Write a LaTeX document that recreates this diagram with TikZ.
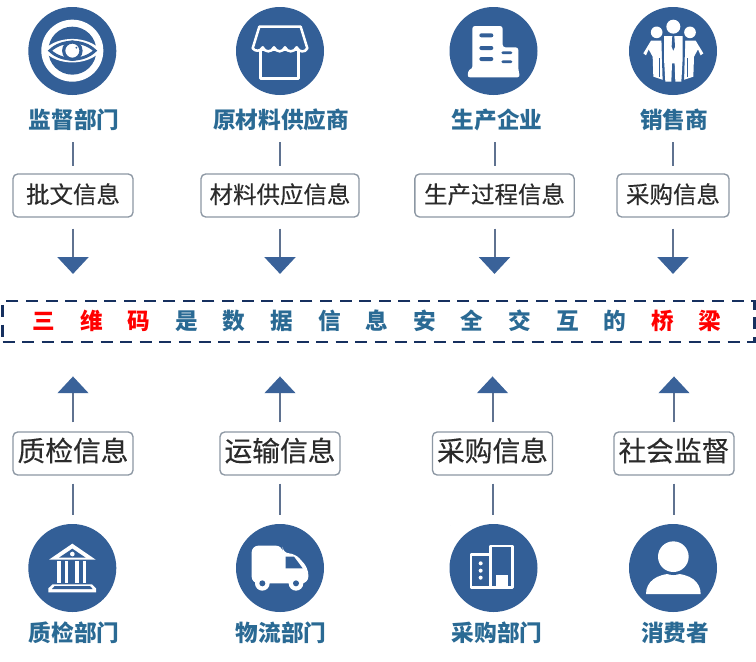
\documentclass[tikz,border=0pt]{standalone}
\usepackage{fontspec}
\setmainfont{Noto Sans CJK SC}
\newfontfamily\boxfont[FakeBold=0.25]{Noto Sans CJK SC}
\usetikzlibrary{arrows.meta}
\definecolor{disc}{HTML}{335F97}
\definecolor{labelblue}{HTML}{2A6A94}
\definecolor{headblue}{HTML}{3A6299}
\definecolor{linegray}{HTML}{5F7290}
\definecolor{boxedge}{HTML}{8C97A3}
\definecolor{textdark}{HTML}{2B2B2B}
\definecolor{bandnavy}{HTML}{16305F}
\newcommand{\bandch}[1]{\makebox[35.7pt]{#1}}
\tikzset{
  icondisc/.style={circle,fill=disc,draw=none,minimum size=66pt,inner sep=0pt},
  rolelabel/.style={font=\bfseries\fontsize{17pt}{17pt}\selectfont,text=labelblue,inner sep=0pt,text height=14pt,text depth=2.5pt},
  infobox/.style={draw=boxedge,line width=1pt,rounded corners=3.5pt,fill=white,inner sep=0pt,minimum height=32.25pt,text=textdark,text height=14pt,text depth=2.5pt},
  infotop/.style={infobox,font=\boxfont\fontsize{17.6pt}{17.6pt}\selectfont},
  infobot/.style={infobox,font=\boxfont\fontsize{20.8pt}{20.8pt}\selectfont},
  stem/.style={draw=linegray,line width=1.5pt},
  feed/.style={draw=linegray,line width=1.5pt,-{Triangle[length=12.5pt,width=23pt,color=headblue,fill=headblue]}},
  wl/.style={draw=white,line width=1.9pt,line join=round},
}
\begin{document}
\begin{tikzpicture}[x=.75pt,y=-.75pt]
\useasboundingbox (0,0) rectangle (756,661);
\fill[white] (0,0) rectangle (756,661);
% discs
\node[icondisc] (d1) at (72.3,51) {};
\node[icondisc] (d2) at (280,51) {};
\node[icondisc] (d3) at (493.5,51) {};
\node[icondisc] (d4) at (673,51) {};
\node[icondisc] (d5) at (72.3,568) {};
\node[icondisc] (d6) at (280,568) {};
\node[icondisc] (d7) at (493.5,568) {};
\node[icondisc] (d8) at (673,568) {};
% role labels
\node[rolelabel] (l1) at (74,121) {监督部门};
\node[rolelabel] (l2) at (281,121) {原材料供应商};
\node[rolelabel] (l3) at (497,121) {生产企业};
\node[rolelabel] (l4) at (674,121) {销售商};
\node[rolelabel] (l5) at (74,634) {质检部门};
\node[rolelabel] (l6) at (281,634) {物流部门};
\node[rolelabel] (l7) at (497,634) {采购部门};
\node[rolelabel] (l8) at (675,634) {消费者};
% boxes
\node[infotop,minimum width=90pt] (b1) at (73,195.5) {批文信息};
\node[infotop,minimum width=118.5pt] (b2) at (280,195.5) {材料供应信息};
\node[infotop,minimum width=119.5pt] (b3) at (494.5,195.5) {生产过程信息};
\node[infotop,minimum width=84pt] (b4) at (673,195.5) {采购信息};
\node[infobot,minimum width=90pt] (b5) at (73,453.5) {质检信息};
\node[infobot,minimum width=90pt] (b6) at (280,453.5) {运输信息};
\node[infobot,minimum width=90pt] (b7) at (492.5,453.5) {采购信息};
\node[infobot,minimum width=90pt] (b8) at (674,453.5) {社会监督};
% band
\node[draw=bandnavy,line width=1.9pt,dash pattern=on 9pt off 5.7pt,minimum width=564pt,minimum height=30.5pt,inner sep=0pt] (band) at (378.5,321.5) {};
\node[inner sep=0pt,font=\bfseries\fontsize{17pt}{17pt}\selectfont,text=labelblue] (slogan) at (377,321) {\bandch{\textcolor{red}{三}}\bandch{\textcolor{red}{维}}\bandch{\textcolor{red}{码}}\bandch{是}\bandch{数}\bandch{据}\bandch{信}\bandch{息}\bandch{安}\bandch{全}\bandch{交}\bandch{互}\bandch{的}\bandch{\textcolor{red}{桥}}\bandch{\textcolor{red}{梁}}};
% top connectors
\foreach \i in {1,2,3,4}{
  \draw[stem,shorten <=7.5pt,shorten >=5.25pt] (l\i.south -| b\i.north) -- (b\i.north);
  \draw[feed,shorten <=8.25pt,shorten >=19.5pt] (b\i.south) -- (b\i.south |- band.north);
}
% bottom connectors
\foreach \i in {5,6,7,8}{
  \draw[stem,shorten <=6pt,shorten >=6.75pt] (b\i.south) -- (b\i.south |- d\i.north);
  \draw[feed,shorten <=6.75pt,shorten >=25pt] (b\i.north) -- (b\i.north |- band.south);
}
% --- icons, drawn in 3x crop coordinates ---
% eye
\begin{scope}[scale=1/3]
\fill[white] (217,152) circle (93);
\fill[disc] (217,152) circle (72);
\fill[white] (130,152) .. controls (170,105) and (264,105) .. (304,152) .. controls (264,199) and (170,199) .. (130,152) -- cycle;
\draw[draw=disc,line width=2.2pt,fill=white] (150,152) .. controls (185,118) and (250,118) .. (285,152) .. controls (250,186) and (185,186) .. (150,152) -- cycle;
\draw[draw=disc,line width=2.4pt,fill=white] (217,152) circle (26);
\fill[disc] (229,143) circle (3);
\end{scope}
% shop
\begin{scope}[scale=1/3]
\draw[wl] (781,150) rectangle (895,235);
\draw[wl,fill=disc] (778,80) -- (902,80) -- (922,145)
  .. controls (915,158) and (898,158) .. (890,142)
  .. controls (882,158) and (862,158) .. (855,142)
  .. controls (848,158) and (830,158) .. (822,142)
  .. controls (815,158) and (795,158) .. (788,142)
  .. controls (782,155) and (765,155) .. (758,145) -- cycle;
\end{scope}
% company building
\begin{scope}[shift={(380,0)},scale=1/3]
\fill[white,rounded corners=2pt] (277,78) -- (368,78) -- (368,142) -- (415,142) -- (415,208) -- (420,232) -- (262,232) -- (266,208) -- (277,208) -- cycle;
\foreach \y in {106,144,177} \fill[disc,rounded corners=1.5pt] (298,\y-6) rectangle (340,\y+6);
\foreach \y in {158,185} \fill[disc,rounded corners=1pt] (364,\y-4) rectangle (397,\y+4);
\end{scope}
% people
\begin{scope}[shift={(380,0)},scale=1/3]
\fill[white] (830,97) circle (17.5);
\fill[white] (930,97) circle (17.5);
\fill[white] (813,122) -- (846,122) -- (850,170) -- (850,240) -- (820,230) -- (818,170) -- (806,148) -- (798,166) -- (790,160) -- cycle;
\fill[white] (947,122) -- (914,122) -- (910,170) -- (910,240) -- (940,230) -- (942,170) -- (954,148) -- (962,166) -- (970,160) -- cycle;
\fill[disc] (836,175) rectangle (839,232);
\fill[disc] (921,175) rectangle (924,232);
\fill[white] (880,80) circle (21);
\fill[disc] (844,112) -- (916,112) -- (912,246) -- (848,246) -- cycle;
\fill[white] (852,108) -- (908,108) -- (908,176) -- (904,245) -- (886,245) -- (884,190) -- (876,190) -- (874,245) -- (856,245) -- (852,176) -- cycle;
\fill[disc] (877,108) -- (883,108) -- (885,140) -- (880,152) -- (875,140) -- cycle;
\end{scope}
% bank
\begin{scope}[shift={(30,525)},scale=1/3]
\fill[white] (127,56) -- (197,104) -- (57,104) -- cycle;
\fill[disc] (127,71) -- (167,98) -- (87,98) -- cycle;
\fill[white] (127,87) circle (7);
\foreach \x in {82,104,136,158} \fill[white] (\x,108) rectangle (\x+11,175);
\fill[white] (68,178) -- (186,178) -- (198,190) -- (198,202) -- (55,202) -- (55,190) -- cycle;
\fill[disc] (74,183) -- (180,183) -- (188,192) -- (66,192) -- cycle;
\end{scope}
% truck
\begin{scope}[shift={(0,515)},scale=1/3]
\fill[white,rounded corners=5pt] (755,92) -- (848,92) -- (848,115) -- (885,115) -- (925,160) -- (925,205) -- (755,205) -- cycle;
\fill[disc] (857,125) -- (882,125) -- (908,160) -- (857,160) -- cycle;
\fill[white] (787,205) circle (22);
\fill[white] (888,205) circle (22);
\fill[disc] (787,205) circle (9);
\fill[disc] (888,205) circle (9);
\end{scope}
% office
\begin{scope}[shift={(450,525)},scale=1/3]
\draw[wl] (63,88) rectangle (122,187);
\draw[wl] (122,63) rectangle (188,187);
\fill[white] (138,150) rectangle (175,190);
\fill[disc] (0,0) rectangle (0,0);
\foreach \y in {115,137,158} \fill[white] (92,\y) circle (6);
\end{scope}
% person
\begin{scope}[shift={(380,515)},scale=1/3]
\fill[white] (798,237) .. controls (798,200) and (830,176) .. (880,176) .. controls (930,176) and (962,200) .. (962,237) -- cycle;
\fill[disc] (880,125) circle (55);
\fill[white] (880,125) circle (46);
\end{scope}
\end{tikzpicture}
\end{document}
